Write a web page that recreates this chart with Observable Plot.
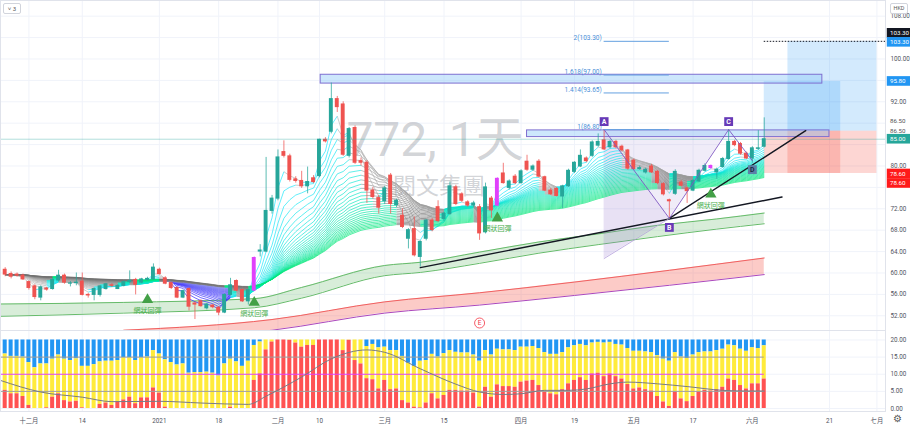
<!DOCTYPE html>
<html><head><meta charset="utf-8">
<script src="https://cdn.jsdelivr.net/npm/d3@7"></script>
<script src="https://cdn.jsdelivr.net/npm/@observablehq/plot@0.6"></script>
<style>
body{margin:0;background:#fff;}
#wrap{position:relative;width:910px;height:430px;overflow:hidden;font-family:Roboto,"Noto Sans CJK TC",sans-serif;}
#wrap svg{display:block}
.btn{position:absolute;left:3px;top:3px;width:16px;height:9px;border:1px solid #d1d4dc;border-radius:2px;font-size:6px;line-height:9px;text-align:center;color:#555;background:#fff}
.hkd{position:absolute;left:890px;top:3px;width:16px;height:9px;border:1px solid #d1d4dc;border-radius:2px;font-size:5.5px;line-height:9px;text-align:center;color:#555;background:#fff}
.gear{position:absolute;left:893px;top:413px;font-size:10px;color:#555}
</style></head><body>
<div id="wrap"><div id="main"></div><div id="sub"></div>
<div class="btn">˅ 3</div><div class="hkd">HKD</div><div class="gear">⚙</div></div>
<script>
// ---------- DATA ----------
const dateTickIdx = [4,13,26,36,46,53,64,74,87,96,106,116,126,139,147];
const dateTickLabels = ["十二月","14","2021","18","二月","10","三月","15","四月","19","五月","17","六月","21","七月"];
const priceTicks = [52,56,60,64,68,72,80,92,100,108];
const priceGrid = [52,56,60,64,68,72,76,80,84,88,92,96,100,104,108];
const subTicks = [0,5,10,15,20];

const open  = [60.6,59.8,59.7,59.5,58.3,57.5,55.4,57.1,57.0,58.6, 59.5,58.0,58.1,58.4,55.9,55.9,55.9,57.0,57.7,57.0, 57.6,58.3,58.7,58.2,58.7,58.8,60.6,59.0,58.1,57.2, 55.4,57.0,54.3,54.7,53.4,53.9,53.5,52.6,55.9,58.5, 56.8,54.7,56.7,64.0,64.0,71.6,73.9,82.6,81.8,77.5, 77.2,76.2,77.7,78.1,84.9,86.4,92.5,91.5,81.9,87.1, 80.9,80.6,75.4,74.0,73.4,78.2,72.7,70.7,66.4,68.2, 63.0,66.4,69.8,72.3,70.1,71.0,76.0,74.7,73.2,72.6, 72.3,67.6,73.9,72.6,78.6,75.9,78.0,76.8,80.8,79.3, 80.8,77.9,75.4,75.7,74.3,76.2,78.9,79.9,81.4,81.9, 83.8,84.8,83.5,84.5,83.6,82.9,81.0,79.4,78.8,79.9, 78.9,76.6,73.6,74.8,76.9,75.8,75.4,77.1,79.1,79.6, 78.8,79.8,81.3,84.5,84.1,82.3,81.4,83.2,83.6];
const high  = [61.0,60.2,60.0,59.8,58.5,57.8,57.6,57.3,58.9,60.5, 59.8,58.4,60.0,60.0,56.2,57.2,57.6,58.0,58.0,57.8, 58.5,60.4,59.0,59.0,59.2,61.7,60.9,59.3,58.3,57.4, 56.8,57.2,54.6,55.0,54.3,54.1,53.7,56.1,59.0,58.7, 57.0,57.0,63.0,65.3,81.6,74.5,83.0,84.7,82.2,78.0, 79.0,79.8,78.2,85.0,85.3,95.5,93.0,92.0,87.2,87.5, 81.5,81.0,76.0,74.5,76.2,78.6,73.8,72.0,68.3,70.5, 66.0,70.0,70.2,73.5,71.4,77.0,76.4,75.0,73.5,73.4, 72.8,76.8,74.3,77.8,80.5,77.4,78.4,79.3,82.0,80.2, 81.2,78.1,75.8,76.0,76.4,79.4,80.8,83.0,81.7,84.7, 86.0,86.8,84.8,84.8,83.9,83.1,81.3,80.0,79.6,80.3, 79.2,76.9,73.8,79.3,77.3,76.1,77.5,79.4,80.4,80.2, 79.6,81.6,86.8,84.8,84.4,82.6,83.6,86.6,89.0];
const low   = [59.3,58.9,59.2,58.6,56.8,55.0,54.8,56.6,56.8,58.3, 57.9,57.4,57.6,55.7,55.3,54.8,55.5,56.8,57.3,56.9, 57.4,58.1,55.9,58.0,58.5,58.6,59.6,57.8,56.9,55.2, 55.2,52.9,51.3,53.6,53.1,53.3,52.0,52.4,55.7,56.5, 54.5,54.0,56.5,63.0,63.8,71.0,73.5,81.5,77.0,76.8, 75.8,74.8,76.7,77.8,84.3,86.0,90.0,81.8,81.5,80.3, 80.0,73.0,73.8,71.0,72.8,71.0,72.2,68.3,64.5,63.0, 61.1,66.0,67.7,69.4,69.6,70.8,72.6,73.2,72.3,72.3, 66.1,67.3,70.2,72.4,76.6,75.5,76.5,76.6,79.0,79.0, 77.8,75.2,74.5,74.2,72.0,76.0,78.6,79.7,80.6,81.6, 83.5,82.9,83.2,83.2,82.6,79.2,79.2,79.2,78.5,78.6, 76.5,74.4,70.2,74.5,76.1,73.0,75.2,76.9,78.9,79.4, 77.5,79.6,81.1,83.6,82.0,81.2,80.5,82.9,83.4];
const close = [59.7,59.3,59.5,58.8,57.2,55.5,57.3,56.9,58.7,59.5, 58.2,58.05,58.2,55.9,55.8,57.0,57.5,57.9,57.6,57.6, 58.3,58.5,57.8,58.8,58.9,61.0,59.8,58.0,57.2,55.4, 56.6,53.7,54.1,53.8,54.1,53.6,52.6,55.9,57.7,56.7, 54.7,56.8,62.8,64.2,71.6,73.9,81.6,81.9,77.4,77.2, 76.2,77.0,77.0,84.9,84.6,92.5,91.0,82.1,86.9,80.6, 80.6,75.4,74.2,72.2,75.8,72.9,73.5,68.6,68.0,63.3, 65.8,69.8,68.0,69.7,71.1,76.2,72.9,73.5,72.6,73.0, 67.4,76.0,71.7,77.6,76.8,77.1,76.8,79.0,79.3,79.9, 78.0,75.4,74.7,74.4,76.2,79.1,80.6,81.9,80.9,84.4, 84.5,83.1,84.5,83.5,82.9,79.5,79.4,79.6,79.3,78.8, 76.8,74.7,73.4,78.9,76.3,75.3,77.2,79.1,80.0,80.0, 79.3,81.3,84.5,83.9,82.3,81.4,83.3,83.3,85.0];
const magentaBars = [42, 83, 119];
const ribbonBlueBars = [28, 38];   // span where the falling ribbon turns blue

// lower panel (stacked: red 0..red, yellow red..yellowTop, blue yellowTop..20)
const redPart = [5.3,4.3,4.3,3.5,0.9,0,0,0.2,3.3,4.3, 2.3,1.9,2.1,0.2,0,0,1.2,1.6,0.9,2.0, 2.5,3.3,1.4,3.1,3.1,6.0,4.5,0.4,0,0, 0,0,0,0,0,0,0,0,0.4,0, 0,0,8.2,10.1,17.1,19.4,20,20,19.9,19.1, 17.9,18.4,18.4,20,20,20,20,16.9,19.9,14.0, 13.0,8.7,8.4,5.7,8.2,5.5,5.7,2.3,1.6,0.4, 0.2,1.6,4.3,2.8,3.8,5.3,5.3,5.1,5.1,4.5, 0.4,6.2,3.3,6.9,6.4,6.4,6.2,7.7,8.0,8.2, 6.7,4.8,4.3,4.0,5.5,7.2,8.2,9.0,8.2,10.1, 10.3,9.3,10.1,9.3,8.6,7.0,5.7,6.0,5.5,5.1, 3.5,1.9,0.6,4.8,2.8,2.0,3.5,4.8,5.3,5.1, 5.5,6.2,8.6,8.2,6.7,5.7,7.2,7.2,8.6];
const yellowTop = [15.9,15.2,15.2,15.0,13.4,11.9,13.0,13.0,14.4,15.6, 14.4,14.0,14.5,12.3,12.3,12.8,13.6,13.8,13.8,14.0, 14.8,14.8,14.0,14.8,15.0,16.9,15.9,14.2,13.4,12.7, 13.0,10.3,10.5,10.5,10.6,10.3,9.5,13.0,14.4,13.6, 12.3,13.8,18.4,19.4,20,20,20,20,20,20, 20,20,20,20,20,20,20,20,20,20, 20,18.1,18.7,17.7,17.9,16.9,16.9,15.2,13.2,12.3, 13.8,14.0,15.8,15.0,16.0,16.9,16.4,16.2,16.2,15.6, 13.8,16.9,15.6,17.3,17.1,17.1,16.9,17.9,17.9,18.1, 17.5,16.3,15.8,15.8,16.3,17.7,18.3,18.7,18.3,19.1, 19.3,19.1,19.3,18.7,18.5,17.5,16.7,16.7,16.5,16.3, 15.4,14.4,13.8,16.3,15.0,14.6,15.6,16.3,16.5,16.5, 16.9,17.3,18.5,18.3,17.3,16.7,17.7,17.5,18.3];
const subTotal = 20;
const grayIdx = [-0.8,6,13,18,26,33,41,44,50,55,61,64,70,76,80,84,87,91,95,98,102,105,110,115,121,125,128];
const grayVal = [8.2,4.8,3.3,2.0,2.1,1.6,1.2,3.6,9.2,14.5,17.1,16.4,11.6,7.1,4.8,4.1,4.3,5.3,5.3,5.7,7.2,7.7,7.2,6.4,5.3,5.1,5.1];
const subLevels = [5, 15];
const subMid = [10];

// bands
const greenBandIdx   = [-0.8,20,42,50,64,70,80,90,100,110,120,128];
const greenBandUpper = [54.2,54.5,55.2,57.3,61.4,62.0,63.9,65.8,67.3,68.9,70.1,71.2];
const greenBandLower = [51.9,52.5,53.5,55.3,59.5,60.1,61.8,63.7,65.3,66.8,68.2,69.2];
const redBandIdx   = [20,45,64,80,96,112,128];
const redBandUpper = [49.3,51.3,54.6,56.3,58.3,60.5,62.8];
const redBandLower = [47.2,49.3,52.5,54.0,55.8,57.7,59.7];

// trend lines
const trend1 = [{i:70,p:61.0},{i:131,p:74.2}];
const trend2 = [{i:112,p:70.2},{i:135,p:86.6}];

// harmonic pattern
const patX = {i:101,p:62.7}, patA = {i:101,p:86.8}, patB = {i:112,p:70.2}, patC = {i:122,p:86.8}, patD = {i:126,p:81.0};
const patLabels = ["A","B","C","D"];

// fib extension levels
const fibLevels = [{lvl:"2", p:103.3},{lvl:"1.618", p:97.0},{lvl:"1.414", p:93.65},{lvl:"1", p:86.8}];
const fibRects = [{i1:53.2,i2:137.8,p1:95.4,p2:97.05},{i1:88,i2:139,p1:85.4,p2:86.65}];

// long positions
const posEntry = 86.5, posStop = 78.6;
const positions = [{i1:128,i2:140.9,target:95.8},{i1:132,i2:147,target:103.3}];
const lastPrice = 85.0;

// signals
const signalIdx = [24,42,83,119];
const signalPrice = [55.0,54.5,70.25,74.7];
const signalText = "網狀回彈";
const earnings = [{i:80,p:50.65}];

// right-side price labels
const axisLabels = [
  {p:103.3,t:"103.30",bg:"#131722",fg:"#fff",dy:-8},
  {p:103.3,t:"103.30",bg:"#2196f3",fg:"#fff",dy:1},
  {p:95.8,t:"95.80",bg:"#2196f3",fg:"#fff",dy:0},
  {p:86.5,t:"86.50",bg:null,fg:"#555",dy:-10},
  {p:86.5,t:"86.50",bg:null,fg:"#555",dy:-0.5},
  {p:85.0,t:"85.00",bg:"#26a69a",fg:"#fff",dy:0},
  {p:78.6,t:"78.60",bg:"#ff1a1a",fg:"#fff",dy:0.5},
  {p:78.6,t:"78.60",bg:"#ff1a1a",fg:"#fff",dy:10}
];

// ---------- BUILD ----------
const xDomain = [-0.79, 148.45];
const n = close.length;
const candles = d3.range(n).map(i => ({i, o:open[i], h:high[i], l:low[i], c:close[i], m:magentaBars.includes(i)}));
const cColor = d => d.m ? "#e040fb" : (d.c >= d.o ? "#26a69a" : "#ef5350");

// EMA ribbon computed from the closes
const periods = d3.range(3, 62, 2);
const emas = periods.map(p => { const a = 2/(p+1); let e = close[0]; return close.map((c,k) => k === 0 ? e : (e = a*c + (1-a)*e)); });
const slow = emas[emas.length-1];
const K = periods.length;
const segs = [];
emas.forEach((e,k) => {
  const t = k/(K-1);
  for (let i = 0; i < n-1; i++) {
    let col;
    const inBlue = i+1 >= ribbonBlueBars[0] && i+1 <= ribbonBlueBars[1];
    if (inBlue && e[i+1] < slow[i+1] - 0.3) col = d3.interpolateRgb("#2a1aff","#aab4e8")(t);
    else if (e[i+1] >= e[i]) col = d3.interpolateRgb("#18e6ff","#00e676")(t);
    else col = d3.interpolateRgb("#b5b5b5","#6f6f6f")(t);
    segs.push({i1:i, i2:i+1, y1:e[i], y2:e[i+1], col});
  }
});

const gBand = greenBandIdx.map((i,k) => ({i, hi:greenBandUpper[k], lo:greenBandLower[k]}));
const rBand = redBandIdx.map((i,k) => ({i, hi:redBandUpper[k], lo:redBandLower[k]}));
const patLine = [patA, patB, patC, patD];
const patPts = patLine.map((d,k) => ({...d, label: patLabels[k], below: k===1 || k===3}));
const sig = signalIdx.map((i,k) => ({i, p:signalPrice[k]}));

const font = 'Roboto, "Noto Sans CJK TC", sans-serif';

const labelMarks = axisLabels.flatMap(l => [
  l.bg ? Plot.rect([l], {x1:148.75, x2:153, y1:d=>d.p-0.9, y2:d=>d.p+0.9, fill:l.bg, dy:l.dy}) : null,
  Plot.text([l], {x:149.2, y:"p", text:"t", fill:l.fg, textAnchor:"start", fontSize:6.2, dy:l.dy})
]).filter(Boolean);

const main = Plot.plot({
  width: 910, height: 330, marginLeft: 0, marginRight: 25, marginTop: 0, marginBottom: 0,
  style: {fontFamily: font, fontSize: "6.3px", color: "#50535e", background: "#fff", overflow: "visible"},
  x: {domain: xDomain, axis: null},
  y: {domain: [49.25, 110.93], axis: "right", ticks: priceTicks, tickFormat: d => d.toFixed(2), tickSize: 0, tickPadding: 5, label: null},
  color: {type: "identity"},
  marks: [
    Plot.ruleY(priceGrid, {stroke: "#f0f3fa"}),
    Plot.ruleX(dateTickIdx, {stroke: "#f0f3fa"}),
    Plot.text(["772, 1天"], {frameAnchor: "middle", dx: -8, dy: -25, fontSize: 48, fill: "#9598a1", fillOpacity: 0.42}),
    Plot.text(["閱文集團"], {frameAnchor: "middle", dx: -4, dy: 21, fontSize: 23, fill: "#9598a1", fillOpacity: 0.42}),
    // position boxes
    Plot.rect(positions, {x1:"i1", x2:"i2", y1:posEntry, y2:"target", fill:"#2196f3", fillOpacity:0.2}),
    Plot.rect(positions, {x1:"i1", x2:"i2", y1:posStop, y2:posEntry, fill:"#f44336", fillOpacity:0.22}),
    // red band
    Plot.areaY(rBand, {x:"i", y1:"lo", y2:"hi", fill:"#f44336", fillOpacity:0.28, curve:"monotone-x", clip:true}),
    Plot.line(rBand, {x:"i", y:"hi", stroke:"#f06060", strokeWidth:1, curve:"monotone-x", clip:true}),
    Plot.line(rBand, {x:"i", y:"lo", stroke:"#ab47bc", strokeWidth:1, curve:"monotone-x", clip:true}),
    // green band
    Plot.areaY(gBand, {x:"i", y1:"lo", y2:"hi", fill:"#4caf50", fillOpacity:0.22, curve:"monotone-x", clip:true}),
    Plot.line(gBand, {x:"i", y:"hi", stroke:"#66bb6a", strokeWidth:1, curve:"monotone-x", clip:true}),
    Plot.line(gBand, {x:"i", y:"lo", stroke:"#66bb6a", strokeWidth:1, curve:"monotone-x", clip:true}),
    // pattern shading
    Plot.areaY([{i:patX.i, a:patX.p, b:patA.p},{i:patB.i, a:patB.p, b:patB.p}], {x:"i", y1:"a", y2:"b", fill:"#9575cd", fillOpacity:0.22}),
    Plot.areaY([{i:patA.i, a:patA.p, b:patA.p},{i:patB.i, a:patB.p, b:patA.p},{i:patC.i, a:patC.p, b:patC.p}], {x:"i", y1:"a", y2:"b", fill:"#9575cd", fillOpacity:0.14}),
    // fib rects
    Plot.rect(fibRects, {x1:"i1", x2:"i2", y1:"p1", y2:"p2", fill:"#90caf9", fillOpacity:0.45, stroke:"#7e6fd0", strokeWidth:1}),
    // ribbon
    Plot.link(segs, {x1:"i1", x2:"i2", y1:"y1", y2:"y2", stroke:"col", strokeWidth:0.8, strokeOpacity:0.85}),
    // candles
    Plot.ruleX(candles, {x:"i", y1:"l", y2:"h", stroke:cColor, strokeOpacity:0.75, strokeWidth:1}),
    Plot.rect(candles, {x1:d=>d.i-0.33, x2:d=>d.i+0.33, y1:d=>Math.min(d.o,d.c), y2:d=>Math.max(d.o,d.c), fill:cColor, insetTop:-0.5, insetBottom:-0.5}),
    // trend lines
    Plot.line(trend1, {x:"i", y:"p", stroke:"#131722", strokeWidth:1.4}),
    Plot.line(trend2, {x:"i", y:"p", stroke:"#131722", strokeWidth:1.4}),
    // pattern lines
    Plot.line(patLine, {x:"i", y:"p", stroke:"#7e57c2", strokeWidth:1, strokeOpacity:0.9}),
    Plot.line([patX, patB], {x:"i", y:"p", stroke:"#b39ddb", strokeWidth:0.8}),
    // fib level lines and labels
    Plot.ruleY(fibLevels, {y:"p", x1:101, x2:112, stroke:"#64a0e0", strokeWidth:1}),
    Plot.text(fibLevels, {x:100.6, y:"p", text:d => `${d.lvl}(${d.p.toFixed(2)})`, textAnchor:"end", dy:-3, fill:"#4a8fd8", fontSize:6.5}),
    // pattern point labels
    Plot.dot(patPts.filter(d=>!d.below), {x:"i", y:"p", dy:-8, symbol:"square", r:5, fill:"#673ab7"}),
    Plot.text(patPts.filter(d=>!d.below), {x:"i", y:"p", dy:-8, text:"label", fill:"#fff", fontSize:7, fontWeight:"bold"}),
    Plot.dot(patPts.filter(d=>d.below), {x:"i", y:"p", dy:9, symbol:"square", r:5, fill:d=>d.label==="D"?"#5c7fa8":"#673ab7"}),
    Plot.text(patPts.filter(d=>d.below), {x:"i", y:"p", dy:9, text:"label", fill:d=>d.label==="D"?"#1a2a40":"#fff", fontSize:7, fontWeight:"bold"}),
    // signals
    Plot.dot(sig, {x:"i", y:"p", symbol:"triangle", r:4.2, fill:"#43a047"}),
    Plot.text(sig, {x:"i", y:"p", dy:11, text:() => signalText, fill:"#4caf50", fontSize:7}),
    // earnings
    Plot.dot(earnings, {x:"i", y:"p", r:5, fill:"#fff", stroke:"#f23645", strokeWidth:0.8}),
    Plot.text(earnings, {x:"i", y:"p", text:() => "E", fill:"#f23645", fontSize:6.5}),
    // price lines
    Plot.ruleY([lastPrice], {stroke:"#26a69a", strokeOpacity:0.35}),
    Plot.ruleY([103.3], {x1:128, x2:xDomain[1], stroke:"#131722", strokeDasharray:"1.5,1.5", strokeWidth:1}),
    Plot.frame({stroke:"#e0e3eb"}),
    ...labelMarks
  ]
});

const sub = d3.range(n).map(i => ({i, r:redPart[i], yt:yellowTop[i]}));
const gray = grayIdx.map((i,k) => ({i, v:grayVal[k]}));
const subPlot = Plot.plot({
  width: 910, height: 100, marginLeft: 0, marginRight: 25, marginTop: 0, marginBottom: 19,
  style: {fontFamily: font, fontSize: "6.3px", color: "#50535e", background: "#fff", overflow: "visible"},
  x: {domain: xDomain, ticks: dateTickIdx, tickFormat: d => dateTickLabels[dateTickIdx.indexOf(d)], tickSize: 0, tickPadding: 7, label: null},
  y: {domain: [-0.876, 22.77], axis: "right", ticks: subTicks, tickFormat: d => d.toFixed(2), tickSize: 0, tickPadding: 5, label: null},
  marks: [
    Plot.ruleY(subTicks, {stroke: "#f0f3fa"}),
    Plot.ruleX(dateTickIdx, {stroke: "#f0f3fa"}),
    Plot.rect(sub, {x1:d=>d.i-0.34, x2:d=>d.i+0.34, y1:d=>d.yt, y2:subTotal, fill:"#2196f3"}),
    Plot.rect(sub, {x1:d=>d.i-0.34, x2:d=>d.i+0.34, y1:"r", y2:"yt", fill:"#ffeb3b"}),
    Plot.rect(sub, {x1:d=>d.i-0.34, x2:d=>d.i+0.34, y1:0, y2:"r", fill:"#ff5252"}),
    Plot.ruleY(subLevels, {x1:-0.79, x2:n-1, stroke:"#9e9e9e", strokeWidth:1}),
    Plot.ruleY(subMid, {x1:-0.79, x2:n-1, stroke:"#e040fb", strokeWidth:1.2}),
    Plot.line(gray, {x:"i", y:"v", stroke:"#787b86", strokeWidth:1, curve:"monotone-x"}),
    Plot.frame({stroke:"#e0e3eb"})
  ]
});

document.getElementById("main").append(main);
document.getElementById("sub").append(subPlot);
</script>
</body></html>
